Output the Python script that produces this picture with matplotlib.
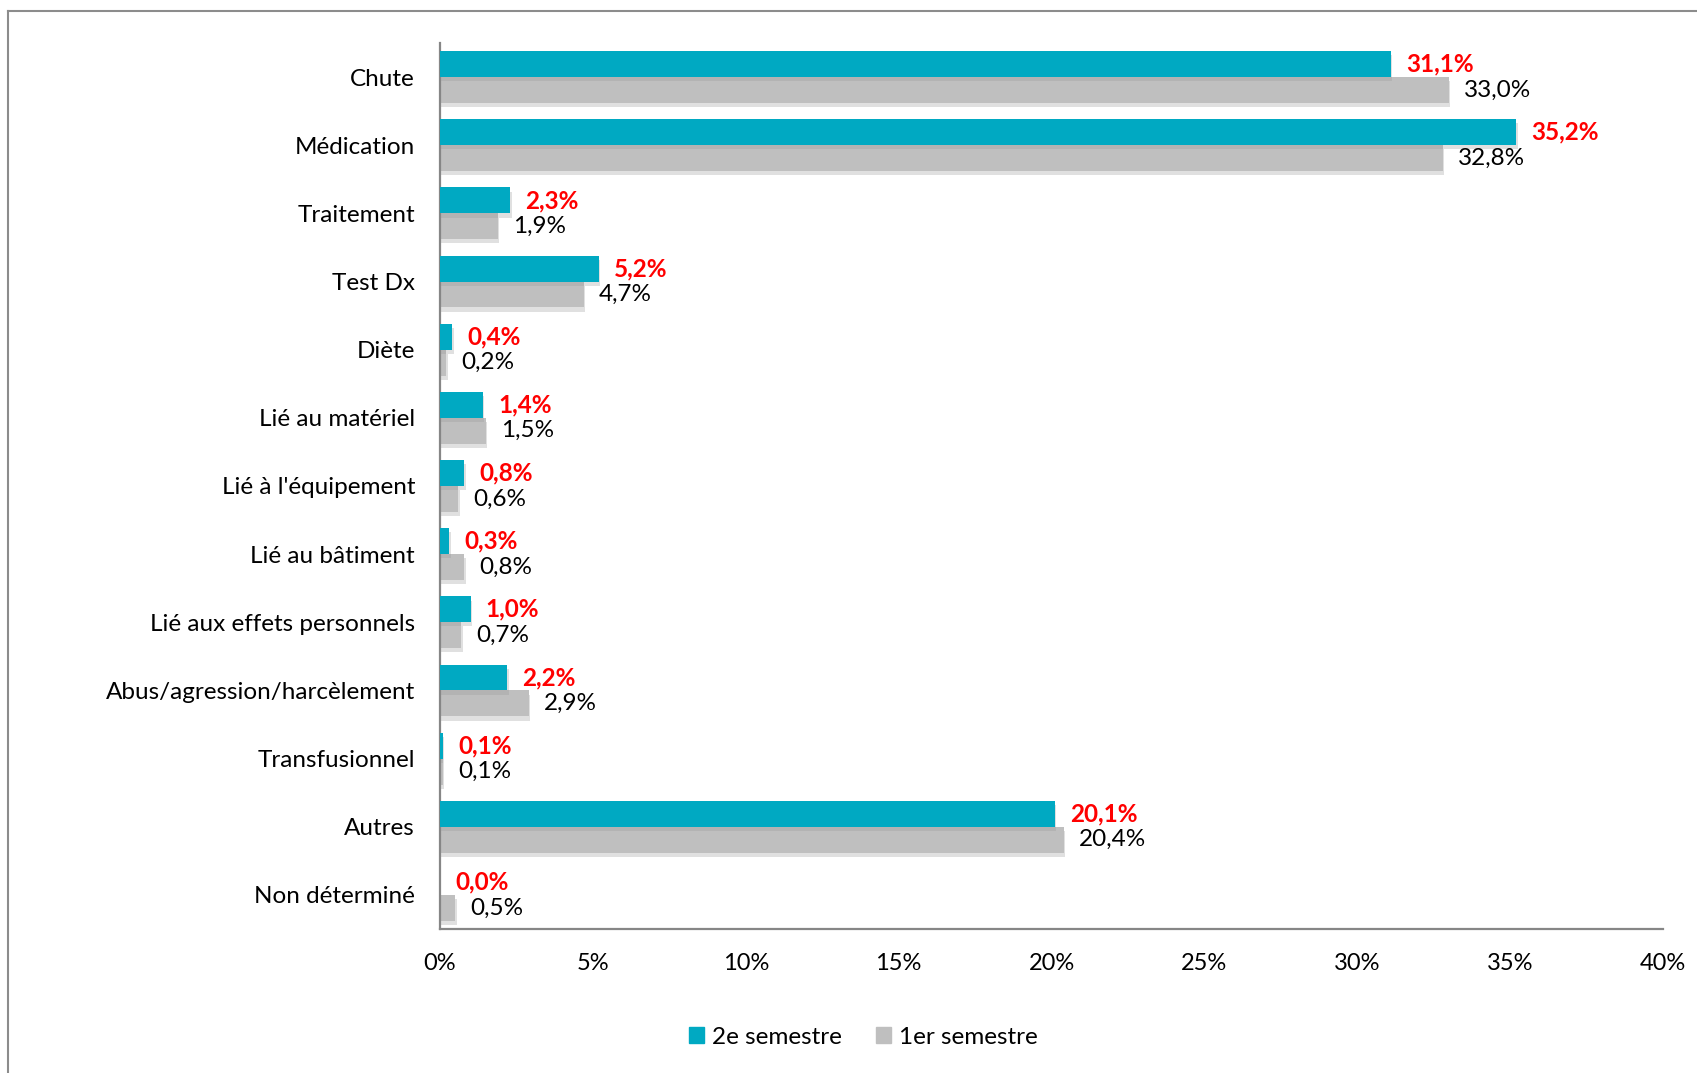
import matplotlib
matplotlib.use("Agg")
import matplotlib.pyplot as plt
import matplotlib.patheffects as pe
from matplotlib.lines import Line2D
from matplotlib.patches import Patch
import numpy as np

plt.rcParams['font.family'] = ['Lato', 'DejaVu Sans']

categories = ["Chute", "Médication", "Traitement", "Test Dx", "Diète",
              "Lié au matériel", "Lié à l'équipement", "Lié au bâtiment",
              "Lié aux effets personnels", "Abus/agression/harcèlement",
              "Transfusionnel", "Autres", "Non déterminé"]
sem2 = [31.1, 35.2, 2.3, 5.2, 0.4, 1.4, 0.8, 0.3, 1.0, 2.2, 0.1, 20.1, 0.0]
sem1 = [33.0, 32.8, 1.9, 4.7, 0.2, 1.5, 0.6, 0.8, 0.7, 2.9, 0.1, 20.4, 0.5]
series_names = ["2e semestre", "1er semestre"]
ticks = [0, 5, 10, 15, 20, 25, 30, 35, 40]

teal = "#00A9C2"
grey = "#BFBFBF"
spine_col = "#868686"

W, H = 1697, 1073
fig = plt.figure(figsize=(W / 100, H / 100), dpi=100)
ax = fig.add_axes([440 / W, 1 - 929 / H, (1663 - 440) / W, (929 - 43) / H])

y = np.arange(len(categories))
h = 0.38
shadow = [pe.SimplePatchShadow(offset=(1, -3), shadow_rgbFace="#9a9a9a", alpha=0.3), pe.Normal()]
ax.barh(y - h / 2, sem2, height=h, color=teal, path_effects=shadow, zorder=3)
ax.barh(y + h / 2, sem1, height=h, color=grey, path_effects=shadow, zorder=2)

def fmt(v):
    return f"{v:.1f}".replace(".", ",") + "%"

for yi, v in zip(y, sem2):
    ax.annotate(fmt(v), (v, yi - h / 2), xytext=(11, 0), textcoords="offset points",
                va="center", ha="left", color="#FF0000", fontweight="bold", fontsize=17.5)
for yi, v in zip(y, sem1):
    ax.annotate(fmt(v), (v, yi + h / 2), xytext=(11, 0), textcoords="offset points",
                va="center", ha="left", color="black", fontsize=17.5)

ax.set_xlim(0, 40)
ax.set_ylim(len(categories) - 0.5, -0.5)
ax.set_yticks(y)
ax.set_yticklabels(categories, fontsize=17.5)
ax.set_xticks(ticks)
ax.set_xticklabels([f"{t}%" for t in ticks], fontsize=17)
ax.tick_params(length=0)
ax.tick_params(axis="y", pad=18)
ax.tick_params(axis="x", pad=17)
for s in ["top", "right"]:
    ax.spines[s].set_visible(False)
for s in ["left", "bottom"]:
    ax.spines[s].set_color(spine_col)
    ax.spines[s].set_linewidth(1.6)

# chart frame (top and left edges visible)
fig.add_artist(Line2D([8 / W, 8 / W], [0, 1 - 11 / H], color="#8C8C8C", lw=1.5))
fig.add_artist(Line2D([8 / W, 1], [1 - 11 / H, 1 - 11 / H], color="#8C8C8C", lw=1.5))

handles = [Patch(color=teal), Patch(color=grey)]
fig.legend(handles, series_names, loc="center", bbox_to_anchor=(863 / W, 1 - 1037 / H),
           ncol=2, frameon=False, fontsize=17.5, handlelength=0.65, handleheight=0.65,
           handletextpad=0.3, columnspacing=1.4)

fig.savefig("out.png", dpi=100)
